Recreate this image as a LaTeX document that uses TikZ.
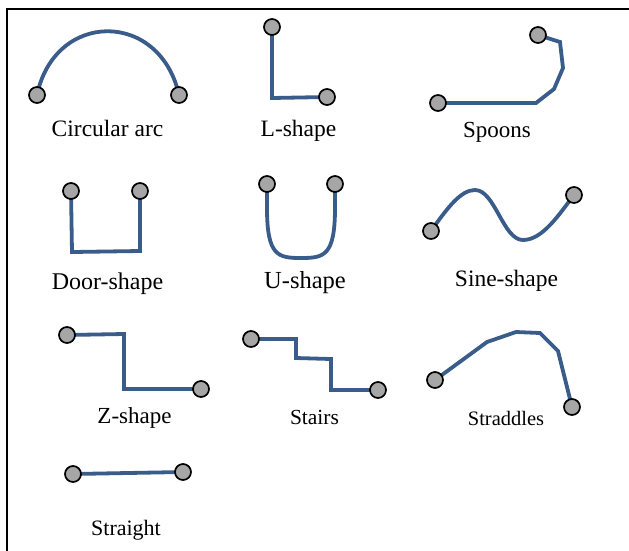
\documentclass[tikz,border=0pt]{standalone}
\usepackage{fontspec}
\setmainfont{Liberation Serif}
\usetikzlibrary{backgrounds}
\definecolor{curveblue}{HTML}{3A5C8A}
\definecolor{dotgray}{HTML}{A6A6A6}
\tikzset{
  endpt/.style={circle,draw=black,fill=dotgray,line width=1.7pt,minimum size=16pt,inner sep=0pt},
  curve/.style={draw=curveblue,line width=3.8pt,line join=miter},
  lbl/.style={anchor=base,inner sep=0pt,font=\fontsize{#1}{#1}\selectfont},
  frameline/.style={draw=black,line width=2pt}
}
\begin{document}
\begin{tikzpicture}[x=1pt,y=-1pt]
\useasboundingbox (0,0) rectangle (629,550);
\coordinate (fb) at (7,551);
\coordinate (fc) at (7,9);
\coordinate (fr) at (630,9);
\draw[frameline] (fb) -- (fc) -- (fr);
% Circular arc
\node[endpt] (ca1) at (37,95) {};
\node[endpt] (ca2) at (179,95) {};
\node[lbl=23.5] (caL) at (107.5,136) {Circular arc};
% L-shape
\node[endpt] (ls1) at (272,27) {};
\node[endpt] (ls2) at (327,97) {};
\node[lbl=23.5] (lsL) at (298.5,136.5) {L-shape};
% Spoons
\node[endpt] (sp1) at (438,103) {};
\node[endpt] (sp2) at (538,35) {};
\node[lbl=23] (spL) at (497,137) {Spoons};
% Door-shape
\node[endpt] (ds1) at (71,191) {};
\node[endpt] (ds2) at (140,191) {};
\node[lbl=24] (dsL) at (107.5,289) {Door-shape};
% U-shape
\node[endpt] (us1) at (267,184) {};
\node[endpt] (us2) at (335,184) {};
\node[lbl=24.5] (usL) at (305,288) {U-shape};
% Sine-shape
\node[endpt] (ss1) at (431,231) {};
\node[endpt] (ss2) at (574,195) {};
\node[lbl=23.5] (ssL) at (506.5,286) {Sine-shape};
% Z-shape
\node[endpt] (zs1) at (67,335) {};
\node[endpt] (zs2) at (201,389) {};
\node[lbl=23] (zsL) at (134.5,423) {Z-shape};
% Stairs
\node[endpt] (st1) at (251,339) {};
\node[endpt] (st2) at (378,390) {};
\node[lbl=21.5] (stL) at (314.5,424) {Stairs};
% Straddles
\node[endpt] (sd1) at (435,380) {};
\node[endpt] (sd2) at (572,407) {};
\node[lbl=20.5] (sdL) at (506,425) {Straddles};
% Straight
\node[endpt] (sg1) at (73,474) {};
\node[endpt] (sg2) at (183,472) {};
\node[lbl=22] (sgL) at (126,535) {Straight};
\begin{pgfonlayer}{background}
\draw[curve] (ca1.center) .. controls (55,10) and (160,10) .. (ca2.center);
\draw[curve] (ls1.center) -- (272,98) -- (ls2.center);
\draw[curve] (sp1.center) -- (536,103) -- (554,89) -- (563,68) -- (560,42) -- (sp2.center);
\draw[curve] (ds1.center) -- (72,252) -- (140,251) -- (ds2.center);
\draw[curve] (us1.center) -- (267,208) .. controls (267,256) and (278,258) .. (301,258) .. controls (324,258) and (335,256) .. (335,208) -- (us2.center);
\draw[curve] (ss1.center) .. controls (448,207) and (461,190) .. (475,190) .. controls (495,190) and (503,240) .. (523,240) .. controls (543,240) and (560,213) .. (ss2.center);
\draw[curve] (zs1.center) -- (124,334) -- (124,389) -- (zs2.center);
\draw[curve] (st1.center) -- (296,339) -- (296,358) -- (331,359) -- (331,390) -- (st2.center);
\draw[curve] (sd1.center) -- (487,342) -- (516,332) -- (540,333) -- (558,351) -- (sd2.center);
\draw[curve] (sg1.center) -- (sg2.center);
\end{pgfonlayer}
\end{tikzpicture}
\end{document}
